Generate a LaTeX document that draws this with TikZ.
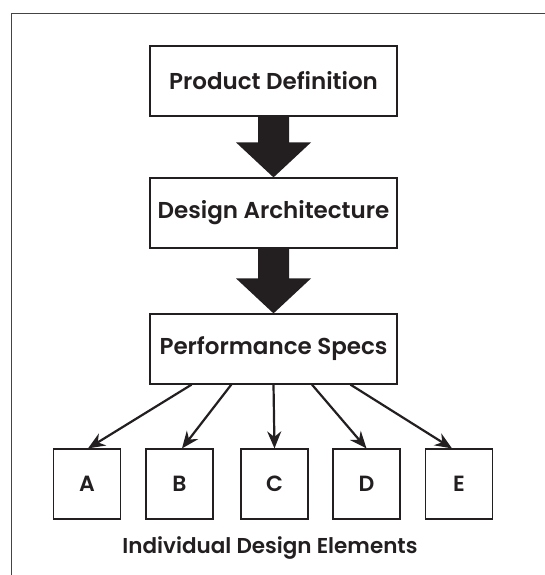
\documentclass[tikz,border=0pt]{standalone}
\usepackage{fontspec}
\setmainfont{Poppins}[BoldFont={* SemiBold}]
\usetikzlibrary{arrows.meta,calc}
\definecolor{ink}{HTML}{231F20}
\definecolor{framec}{HTML}{444444}
\begin{document}
\begin{tikzpicture}[x=1pt,y=-1pt,
  bigbox/.style={draw=ink,line width=1.2pt,minimum width=247pt,minimum height=70pt,inner sep=0pt,font=\fontsize{23}{26}\selectfont\bfseries,text=ink},
  elbox/.style={draw=ink,line width=1.2pt,minimum width=67pt,minimum height=70pt,inner sep=0pt,font=\fontsize{22}{25}\selectfont\bfseries,text=ink},
  thinarrow/.style={draw=ink,line width=2.2pt,-{Stealth[length=17pt,width=14pt]}},
  bigarrow/.style={fill=ink,draw=none}]
\useasboundingbox (0,0) rectangle (544,575);
\draw[framec,line width=1.8pt] (11.5,600) -- (11.5,13.5) -- (560,13.5);
\node[bigbox] (pd) at (273.5,81) {Product Definition};
\node[bigbox] (da) at (273.5,213) {Design Architecture};
\node[bigbox] (ps) at (273.5,349) {Performance Specs};
\node[elbox] (a) at (87,484) {A};
\node[elbox] (b) at (179.5,484) {B};
\node[elbox] (c) at (274.5,484) {C};
\node[elbox] (d) at (366.5,484) {D};
\node[elbox] (e) at (459,484) {E};
\node[font=\fontsize{21.5}{24}\selectfont\bfseries,text=ink] (lbl) at (270,548) {Individual Design Elements};
% big arrows
\fill[bigarrow] ($(pd.south)+(-15.5,0)$) -- ($(pd.south)+(15.5,0)$) -- ($(da.north)+(15.5,-35)$) -- ($(da.north)+(37.5,-35)$) -- (da.north) -- ($(da.north)+(-37.5,-35)$) -- ($(da.north)+(-15.5,-35)$) -- cycle;
\fill[bigarrow] ($(da.south)+(-15.5,0)$) -- ($(da.south)+(15.5,0)$) -- ($(ps.north)+(15.5,-35)$) -- ($(ps.north)+(37.5,-35)$) -- (ps.north) -- ($(ps.north)+(-37.5,-35)$) -- ($(ps.north)+(-15.5,-35)$) -- cycle;
% thin arrows
\draw[thinarrow] ($(ps.south west)!0.17!(ps.south east)$) -- ($(a.north)+(1,0)$);
\draw[thinarrow] ($(ps.south west)!0.33!(ps.south east)$) -- ($(b.north)+(2.5,0)$);
\draw[thinarrow] (ps.south) -- (c.north);
\draw[thinarrow] ($(ps.south west)!0.655!(ps.south east)$) -- (d.north);
\draw[thinarrow] ($(ps.south west)!0.81!(ps.south east)$) -- ($(e.north)+(-7,0)$);
\end{tikzpicture}
\end{document}
